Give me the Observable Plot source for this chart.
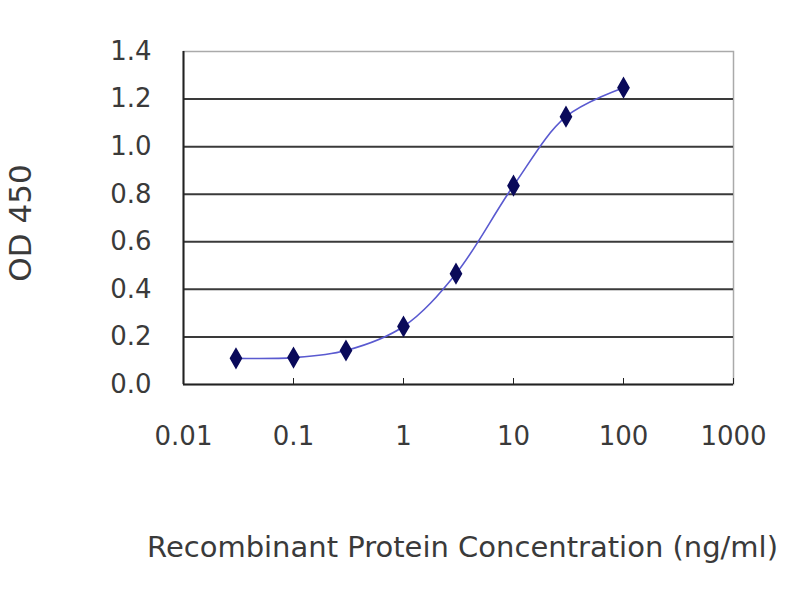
<!DOCTYPE html>
<html>
<head>
<meta charset="utf-8">
<script src="https://cdn.jsdelivr.net/npm/d3@7"></script>
<script src="https://cdn.jsdelivr.net/npm/@observablehq/plot@0.6"></script>
<style>
  html, body { margin: 0; padding: 0; background: #fff; }
  #chart svg { display: block; }
</style>
</head>
<body>
<div id="chart"></div>
<script>
const concentrations = [0.03, 0.1, 0.3, 1, 3, 10, 30, 100];
const odValues = [0.11, 0.113, 0.143, 0.244, 0.466, 0.836, 1.126, 1.248];
const xTicks = [0.01, 0.1, 1, 10, 100, 1000];
const xTickLabels = ["0.01", "0.1", "1", "10", "100", "1000"];
const yTicks = [0, 0.2, 0.4, 0.6, 0.8, 1.0, 1.2, 1.4];
const xTitle = "Recombinant Protein Concentration (ng/ml)";
const yTitle = "OD 450";

const data = concentrations.map((c, i) => ({conc: c, od: odValues[i]}));

const chart = Plot.plot({
  width: 800,
  height: 600,
  marginLeft: 183,
  marginRight: 67,
  marginTop: 51,
  marginBottom: 216,
  style: {fontFamily: "DejaVu Sans, sans-serif", background: "#fff", color: "#3a3a3a"},
  x: {type: "log", domain: [0.01, 1000]},
  y: {domain: [0, 1.4]},
  marks: [
    Plot.frame({stroke: "#aaa", strokeWidth: 1.5}),
    Plot.gridY(yTicks.filter(d => d > 0 && d < 1.4), {stroke: "#3a3a3a", strokeOpacity: 1, strokeWidth: 2}),
    Plot.ruleY([0], {stroke: "#222", strokeWidth: 2}),
    Plot.ruleX([0.01], {stroke: "#222", strokeWidth: 2}),
    Plot.axisY({ticks: yTicks, tickSize: 0, tickPadding: 32, tickFormat: d3.format(".1f"), fontSize: 26, label: null}),
    Plot.axisX({ticks: xTicks, tickSize: 0, tickPadding: 42, tickFormat: (d) => xTickLabels[xTicks.indexOf(d)], fontSize: 26, label: null}),
    Plot.axisX({ticks: xTicks, tickSize: -6, tickFormat: () => "", label: null, stroke: "#222"}),
    Plot.line(data, {x: "conc", y: "od", curve: "catmull-rom", stroke: "#5a5ad0", strokeWidth: 1.6}),
    Plot.dot(data, {x: "conc", y: "od", symbol: "diamond", r: 5.5, fill: "#0a0a5a", stroke: "#0a0a5a", strokeWidth: 2}),
    Plot.text([yTitle], {frameAnchor: "left", textAnchor: "middle", rotate: -90, dx: -162, dy: 5, fontSize: 31, fill: "#3a3a3a"}),
    Plot.text([xTitle], {frameAnchor: "bottom", textAnchor: "middle", dy: 172, dx: 4, fontSize: 29, fill: "#3a3a3a"})
  ]
});
document.getElementById("chart").appendChild(chart);
</script>
</body>
</html>
